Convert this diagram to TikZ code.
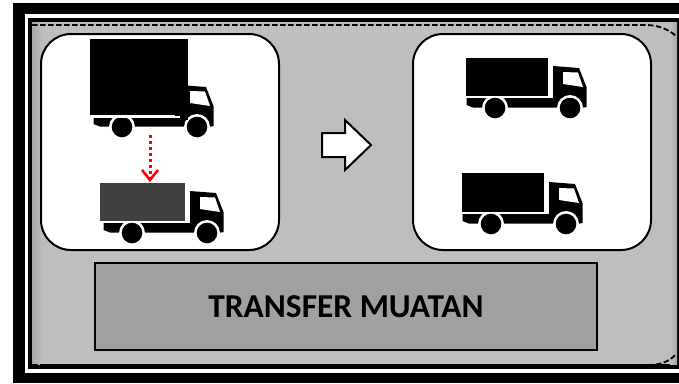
\documentclass[tikz,border=0pt]{standalone}
\usepackage{fontspec}
\setmainfont{Carlito}
\usetikzlibrary{arrows.meta,calc}
\definecolor{panelgray}{HTML}{BEBEBE}
\definecolor{edgegray}{HTML}{A6A6A6}
\definecolor{bargray}{HTML}{A0A0A0}
\definecolor{cargogray}{HTML}{404040}
\tikzset{
  roundpanel/.style={draw=black,line width=2pt,fill=white,rounded corners=30pt,inner sep=0pt,minimum width=238pt,minimum height=216pt},
  titlebar/.style={draw=black,line width=2pt,fill=bargray,inner sep=0pt,minimum width=502pt,minimum height=87pt,font=\bfseries\fontsize{33.4}{35}\selectfont},
  dashline/.style={draw=black,line width=1.8pt,dash pattern=on 5.5pt off 2.5pt},
  dropline/.style={draw=red,line width=3pt,dash pattern=on 3pt off 3pt,-{Straight Barb[length=10pt,width=16pt,line width=2.6pt]}}
}
% #1 dx, #2 dy, #3 box left, #4 box top, #5 box right, #6 box bottom, #7 box colour
\newcommand{\truckicon}[7]{%
  \begin{scope}[shift={(#1,#2)}]
    % chassis and cab
    \fill[black] (103.5,223) -- (190,223) -- (190,191) -- (216,193) -- (223.5,212) -- (223.5,232) -- (221,232.5)
      -- (110,232.5) -- (103.5,230) -- cycle;
    % window
    \fill[white] (200,197) -- (215,197.5) -- (220,212) -- (200,209) -- cycle;
    % wheels
    \fill[white] (132,233) circle (13);
    \fill[white] (207,233) circle (13);
    \fill[white] (119,233) rectangle (145,240);
    \fill[white] (194,233) rectangle (220,240);
    \fill[black] (132,233) circle (10.3);
    \fill[black] (207,233) circle (10.3);
  \end{scope}
  \fill[#7] (#3,#4) rectangle (#5,#6);
}
\begin{document}
\begin{tikzpicture}[x=1pt,y=-1pt]
\useasboundingbox (0,0) rectangle (679,383);
\fill[white] (0,0) rectangle (679,383);
% frame
\fill[black] (13,3) rectangle (679,383);
\fill[white] (24.5,14) rectangle (679,373);
\fill[black] (28,18) rectangle (679,369);
\fill[panelgray] (32,22) rectangle (677,364);
\shade[left color=edgegray,right color=panelgray] (32,22) rectangle (42,364);
\shade[left color=panelgray,right color=edgegray] (670,22) rectangle (677,364);
% dashed outline
\coordinate (dtl) at (32,25);
\coordinate (dtr) at (676,36);
\coordinate (dbl) at (32,365);
\coordinate (dbr) at (676,354);
\draw[dashline] (dtl) -- (645,25) .. controls (658,25) and (668,29) .. (dtr);
\draw[dashline] (dbl) -- (648,365) .. controls (660,365) and (669,362) .. (dbr);
% panels
\node[roundpanel] (leftpanel) at (160,142) {};
\node[roundpanel] (rightpanel) at (532,142) {};
\node[titlebar] (title) at (346,306.5) {TRANSFER MUATAN};
% trucks
\truckicon{-10}{-106}{90}{39}{187.5}{115}{black}
\fill[black] (175,115) rectangle (188,120);
\fill[white] (90,115.5) rectangle (180,117.5);
\truckicon{0}{0}{100}{183}{185}{221}{cargogray}
\truckicon{363}{-125}{466}{58}{548}{96}{black}
\truckicon{359}{-9}{462}{173}{544}{212}{black}
% arrow between trucks
\coordinate (dropstart) at (150,135);
\coordinate (dropend) at (150,182);
\draw[dropline] (dropstart) -- (dropend);
% block arrow
\draw[black,line width=2pt,fill=white,line join=miter]
  (322,133) -- (345,133) -- (345,120) -- (371,145) -- (345,170) -- (345,157) -- (322,157) -- cycle;
\end{tikzpicture}
\end{document}
